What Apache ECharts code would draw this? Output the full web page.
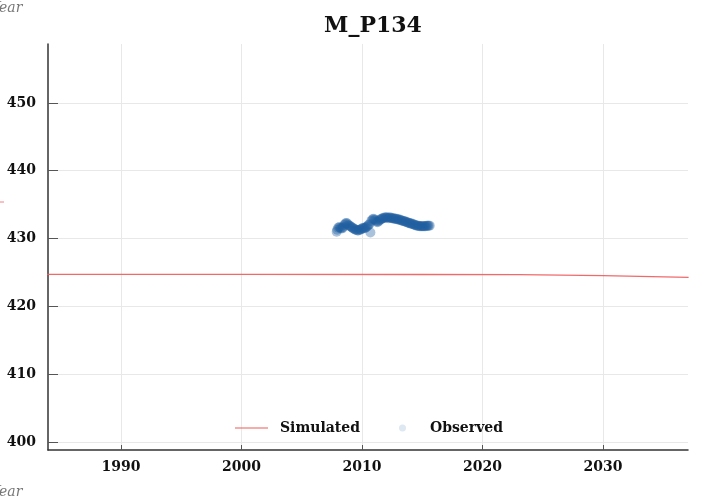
<!DOCTYPE html>
<html>
<head>
<meta charset="utf-8">
<script src="https://cdn.jsdelivr.net/npm/echarts@6/dist/echarts.min.js"></script>
<style>html,body{margin:0;padding:0;background:#fff}#c{width:701px;height:502px}</style>
</head>
<body>
<div id="c"></div>
<script>
const chartTitle = 'M_P134';
const xTicks = [1990, 2000, 2010, 2020, 2030];
const yTicks = [400, 410, 420, 430, 440, 450];
const simYears = [1983, 2000, 2015, 2023, 2030, 2037.1];
const simValues = [424.70, 424.70, 424.69, 424.68, 424.52, 424.27];
const obsYears = [2007.90, 2007.95, 2008.03, 2008.12, 2008.20, 2008.28, 2008.37, 2008.45, 2008.53, 2008.62, 2008.70, 2008.78, 2008.87, 2008.95, 2009.03, 2009.12, 2009.20, 2009.28, 2009.37, 2009.45, 2009.53, 2009.62, 2009.70, 2009.78, 2009.87, 2009.95, 2010.03, 2010.12, 2010.20, 2010.28, 2010.37, 2010.45, 2010.53, 2010.62, 2010.70, 2010.78, 2010.87, 2010.95, 2011.03, 2011.12, 2011.20, 2011.28, 2011.37, 2011.45, 2011.53, 2011.62, 2011.70, 2011.78, 2011.87, 2011.95, 2012.03, 2012.12, 2012.20, 2012.28, 2012.37, 2012.45, 2012.53, 2012.62, 2012.70, 2012.78, 2012.87, 2012.95, 2013.03, 2013.12, 2013.20, 2013.28, 2013.37, 2013.45, 2013.53, 2013.62, 2013.70, 2013.78, 2013.87, 2013.95, 2014.03, 2014.12, 2014.20, 2014.28, 2014.37, 2014.45, 2014.53, 2014.62, 2014.70, 2014.78, 2014.87, 2014.95, 2015.03, 2015.12, 2015.20, 2015.28, 2015.37, 2015.45, 2015.53, 2015.62];
const obsValues = [431.0, 431.3, 431.6, 431.7, 431.6, 431.5, 431.5, 431.7, 432.0, 432.2, 432.3, 432.2, 432.0, 431.9, 431.8, 431.7, 431.6, 431.5, 431.4, 431.3, 431.3, 431.2, 431.2, 431.3, 431.3, 431.4, 431.5, 431.6, 431.5, 431.6, 431.7, 431.8, 432.0, 432.1, 430.9, 432.6, 432.8, 432.9, 432.8, 432.7, 432.5, 432.4, 432.5, 432.7, 432.8, 432.9, 433.0, 433.0, 433.1, 433.1, 433.1, 433.1, 433.0, 433.1, 433.1, 433.0, 433.0, 433.0, 432.9, 432.9, 432.9, 432.8, 432.8, 432.8, 432.7, 432.7, 432.6, 432.6, 432.5, 432.5, 432.4, 432.4, 432.3, 432.3, 432.2, 432.2, 432.1, 432.1, 432.0, 432.0, 431.9, 431.9, 431.9, 431.8, 431.8, 431.8, 431.8, 431.8, 431.8, 431.8, 431.9, 431.9, 431.9, 431.9];
const xMin = 1983.95, xMax = 2037.05, yMin = 398.8, yMax = 458.7;

const FONT = '"DejaVu Serif", serif';
const chart = echarts.init(document.getElementById('c'), null, {renderer: 'canvas'});
chart.setOption({
  animation: false,
  backgroundColor: '#ffffff',
  title: {
    text: chartTitle, left: 368, top: 10, textAlign: 'center',
    textStyle: {fontFamily: FONT, fontWeight: 'bold', fontSize: 22, color: '#111'}
  },
  grid: {left: 48, right: 13, top: 44, bottom: 52, containLabel: false},
  legend: [
    {
      left: 230, top: 416, itemWidth: 33, itemHeight: 12, itemGap: 10,
      textStyle: {fontFamily: FONT, fontWeight: 'bold', fontSize: 14, color: '#111', padding: [0, 0, 0, 7]},
      data: [{name: 'Simulated', icon: 'path://M0,5.5L33,5.5L33,6.5L0,6.5Z', itemStyle: {color: '#f05a5a'}}]
    },
    {
      left: 394, top: 416, itemWidth: 7, itemHeight: 7, itemGap: 10,
      textStyle: {fontFamily: FONT, fontWeight: 'bold', fontSize: 14, color: '#111', padding: [0, 0, 0, 19]},
      data: [{name: 'Observed', icon: 'circle', itemStyle: {color: '#a8c3dc'}}]
    }
  ],
  xAxis: {
    type: 'value', min: xMin, max: xMax,
    axisLine: {show: true, onZero: false, lineStyle: {color: '#333', width: 1.5}},
    axisTick: {show: true, inside: true, length: 5, customValues: xTicks, lineStyle: {color: '#555'}},
    axisLabel: {customValues: xTicks, formatter: v => String(Math.round(v)), fontFamily: FONT, fontWeight: 'bold', fontSize: 14, color: '#111', margin: 10},
    splitLine: {show: true, lineStyle: {color: '#e8e8e8', width: 1}}
  },
  yAxis: {
    type: 'value', min: yMin, max: yMax,
    axisLine: {show: true, onZero: false, lineStyle: {color: '#333', width: 1.5}},
    axisTick: {show: true, inside: true, length: 10, customValues: yTicks, lineStyle: {color: '#555'}},
    axisLabel: {customValues: yTicks, formatter: v => String(Math.round(v)), fontFamily: FONT, fontWeight: 'bold', fontSize: 14, color: '#111', margin: 12},
    splitLine: {show: true, lineStyle: {color: '#e8e8e8', width: 1}}
  },
  series: [
    {
      name: 'Simulated', type: 'line', showSymbol: false, clip: true,
      data: simYears.map((x, i) => [x, simValues[i]]),
      lineStyle: {color: '#f05a5a', width: 1.3, opacity: 0.9},
      itemStyle: {color: '#f05a5a'}
    },
    {
      name: 'Observed', type: 'scatter', symbolSize: 10,
      data: obsYears.map((x, i) => [x, obsValues[i]]),
      itemStyle: {color: '#1f5fa0', opacity: 0.38}
    }
  ],
  graphic: [
    {type: 'text', left: -9, top: 1, style: {text: 'Year', font: 'italic 14px ' + FONT, fill: '#777'}},
    {type: 'text', left: -9, top: 485, style: {text: 'Year', font: 'italic 14px ' + FONT, fill: '#777'}},
    {type: 'line', shape: {x1: 0, y1: 202, x2: 4, y2: 202}, style: {stroke: '#f08080', lineWidth: 1}}
  ]
});
</script>
</body>
</html>
